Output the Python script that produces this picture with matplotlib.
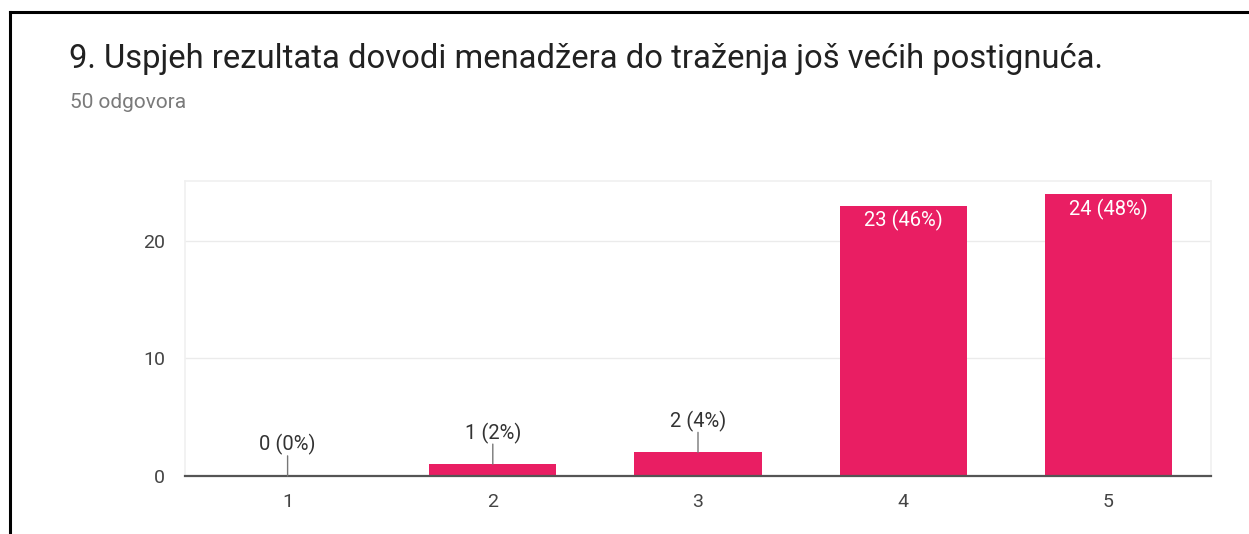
import matplotlib
matplotlib.use("Agg")
import matplotlib.pyplot as plt
from matplotlib.lines import Line2D

plt.rcParams['font.family'] = ['Roboto', 'DejaVu Sans']

title = "9. Uspjeh rezultata dovodi menadžera do traženja još većih postignuća."
subtitle = "50 odgovora"
categories = ["1", "2", "3", "4", "5"]
counts = [0, 1, 2, 23, 24]
percents = [0, 2, 4, 46, 48]
yticks = [0, 10, 20]

W, H = 1249, 534
fig = plt.figure(figsize=(W / 100, H / 100), dpi=100)
fig.patch.set_facecolor("white")

# card border
fig.add_artist(Line2D([10 / W, 10 / W], [0, 1 - 12 / H], color="black", lw=2.2, transform=fig.transFigure))
fig.add_artist(Line2D([10 / W, 1], [1 - 12 / H, 1 - 12 / H], color="black", lw=2.2, transform=fig.transFigure))

fig.text(69 / W, 1 - 59 / H, title, fontsize=23.6, color="#212121", va="center", ha="left")
fig.text(70 / W, 1 - 102 / H, subtitle, fontsize=15, color="#7a7a7a", va="center", ha="left")

left, right, top, bottom = 185, 1211, 181, 476
ax = fig.add_axes([left / W, 1 - bottom / H, (right - left) / W, (bottom - top) / H])
x = list(range(1, len(categories) + 1))
ax.bar(x, counts, width=0.62, color="#e91e63", zorder=3)
ax.set_xlim(0.5, 5.5)
ax.set_ylim(0, 25.1)
ax.set_yticks(yticks)
ax.set_xticks(x)
ax.set_xticklabels(categories)
ax.tick_params(axis="both", length=0, labelsize=14, labelcolor="#444444")
ax.tick_params(axis="y", pad=14.5)
ax.tick_params(axis="x", pad=12)
ax.grid(axis="y", color="#ebebeb", lw=1, zorder=0)
for s in ["left", "top", "right"]:
    ax.spines[s].set_color("#f0f0f0")
    ax.spines[s].set_linewidth(1.2)
ax.spines["bottom"].set_color("#555555")
ax.spines["bottom"].set_linewidth(1.6)
ax.spines["bottom"].set_zorder(4)

for xi, c, p in zip(x, counts, percents):
    label = f"{c} ({p}%)"
    if c >= 10:
        ax.annotate(label, (xi, c), xytext=(0, -11), textcoords="offset points",
                    ha="center", va="center", color="white", fontsize=14.5, zorder=5)
    else:
        ax.annotate("", (xi, c), xytext=(0, 14.5), textcoords="offset points",
                    arrowprops=dict(arrowstyle="-", color="#777777", lw=1, shrinkA=0, shrinkB=0), zorder=5)
        ax.annotate(label, (xi, c), xytext=(0, 22.5), textcoords="offset points",
                    ha="center", va="center", color="#333333", fontsize=14.5, zorder=5)

fig.savefig("out.png", dpi=100, facecolor="white")
